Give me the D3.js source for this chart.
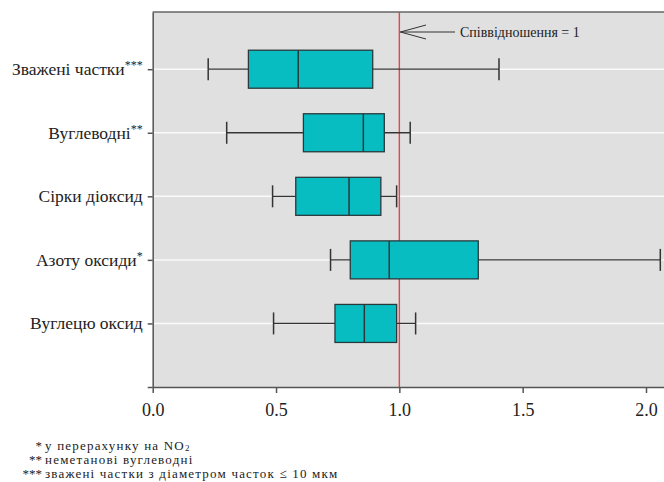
<!DOCTYPE html>
<html>
<head>
<meta charset="utf-8">
<script src="https://cdn.jsdelivr.net/npm/d3@7"></script>
<style>
  body { margin: 0; background: #fff; }
  svg text { font-family: "Liberation Serif", "DejaVu Serif", serif; fill: #222; }
</style>
</head>
<body>
<div id="chart"></div>
<script>
// categories from top to bottom
var categories = ["Зважені частки", "Вуглеводні", "Сірки діоксид", "Азоту оксиди", "Вуглецю оксид"];
var marks = ["***", "**", "", "*", ""];
var whiskerLow = [0.225, 0.30, 0.486, 0.721, 0.49];
var q1 = [0.388, 0.611, 0.580, 0.801, 0.739];
var median = [0.590, 0.854, 0.796, 0.959, 0.858];
var q3 = [0.892, 0.939, 0.925, 1.320, 0.989];
var whiskerHigh = [1.404, 1.044, 0.989, 2.058, 1.066];
var xTicks = [0, 0.5, 1.0, 1.5, 2.0];
var refValue = 1;
var notes = [
  {mark: "*", text: "у перерахунку на NO", sub: "2"},
  {mark: "**", text: "неметанові вуглеводні", sub: ""},
  {mark: "***", text: "зважені частки з діаметром часток ≤ 10 мкм", sub: ""}
];

var rows = categories.map((c, i) => ({
  name: c, mark: marks[i], pos: categories.length - i,
  lo: whiskerLow[i], q1: q1[i], med: median[i], q3: q3[i], hi: whiskerHigh[i]
}));

// careful: "top" is a reserved window property
var W = 664, H = 482;
var plotLeft = 152.7, plotTop = 12, plotBottom = 387;
var serif = '"Liberation Serif", "DejaVu Serif", serif';

var svg = d3.select('#chart').append('svg')
  .attr('width', W).attr('height', H)
  .attr('font-family', serif);

var x = d3.scaleLinear().domain([0, 2.073]).range([plotLeft, W]);
var y = d3.scaleLinear().domain([0, 5.9]).range([plotBottom, plotTop]);

// plot background
svg.append('rect')
  .attr('x', plotLeft).attr('y', plotTop)
  .attr('width', W - plotLeft).attr('height', plotBottom - plotTop)
  .attr('fill', '#e0e0e0');

// white grid lines at each category
svg.selectAll('.grid')
  .data(rows)
  .enter().append('line')
  .attr('x1', plotLeft).attr('x2', W)
  .attr('y1', d => y(d.pos)).attr('y2', d => y(d.pos))
  .attr('stroke', '#fafafa').attr('stroke-width', 1.5);

// reference line
svg.append('line')
  .attr('x1', x(refValue)).attr('x2', x(refValue))
  .attr('y1', plotTop).attr('y2', plotBottom)
  .attr('stroke', '#e8474a').attr('stroke-width', 1.4);

// whiskers and boxes
var g = svg.selectAll('.box').data(rows).enter().append('g').attr('class', 'box');
g.append('line')
  .attr('x1', d => x(d.lo)).attr('x2', d => x(d.hi))
  .attr('y1', d => y(d.pos)).attr('y2', d => y(d.pos))
  .attr('stroke', '#333').attr('stroke-width', 1.3);
g.append('line')
  .attr('x1', d => x(d.lo)).attr('x2', d => x(d.lo))
  .attr('y1', d => y(d.pos) - 11).attr('y2', d => y(d.pos) + 11)
  .attr('stroke', '#333').attr('stroke-width', 1.5);
g.append('line')
  .attr('x1', d => x(d.hi)).attr('x2', d => x(d.hi))
  .attr('y1', d => y(d.pos) - 11).attr('y2', d => y(d.pos) + 11)
  .attr('stroke', '#333').attr('stroke-width', 1.5);
g.append('rect')
  .attr('x', d => x(d.q1)).attr('width', d => x(d.q3) - x(d.q1))
  .attr('y', d => y(d.pos) - 19).attr('height', 38)
  .attr('fill', '#08bdc2').attr('stroke', '#2a3a3c').attr('stroke-width', 1.3);
g.append('line')
  .attr('x1', d => x(d.med)).attr('x2', d => x(d.med))
  .attr('y1', d => y(d.pos) - 19).attr('y2', d => y(d.pos) + 19)
  .attr('stroke', '#2a3a3c').attr('stroke-width', 1.5);

// top border
svg.append('line')
  .attr('x1', plotLeft).attr('x2', W).attr('y1', plotTop).attr('y2', plotTop)
  .attr('stroke', '#666').attr('stroke-width', 1.5);

// x axis
var xAxis = svg.append('g')
  .attr('transform', `translate(0,${plotBottom})`)
  .call(d3.axisBottom(x).tickValues(xTicks).tickFormat(d3.format('.1f')).tickSize(6).tickSizeOuter(0).tickPadding(10));
xAxis.attr('font-family', serif).attr('font-size', 18);
xAxis.select('.domain').attr('stroke', '#555').attr('stroke-width', 1.5);
xAxis.selectAll('.tick line').attr('stroke', '#555').attr('stroke-width', 1.5);
xAxis.selectAll('.tick text')
  .style('font-family', serif).style('font-size', '18px').attr('fill', '#222');

// y axis
var yAxis = svg.append('g')
  .attr('transform', `translate(${plotLeft},0)`)
  .call(d3.axisLeft(y).tickValues([0, 1, 2, 3, 4, 5]).tickFormat('').tickSize(5).tickSizeOuter(0));
yAxis.select('.domain').attr('stroke', '#555').attr('stroke-width', 1.5);
yAxis.selectAll('.tick line').attr('stroke', '#555').attr('stroke-width', 1.5);

// category labels with superscript marks
var lab = svg.selectAll('.cat').data(rows).enter().append('text')
  .attr('class', 'cat')
  .attr('x', plotLeft - 10)
  .attr('y', d => y(d.pos) + 6)
  .attr('text-anchor', 'end')
  .style('font-family', serif)
  .style('font-size', '17.5px');
lab.append('tspan').text(d => d.name);
lab.append('tspan')
  .attr('dy', -6)
  .style('font-size', '12px')
  .text(d => d.mark);

// annotation arrow for ratio = 1
var ay = 32;
var ann = svg.append('g').attr('stroke', '#333').attr('stroke-width', 1).attr('fill', 'none');
ann.append('line').attr('x1', x(refValue) + 1).attr('x2', 455).attr('y1', ay).attr('y2', ay);
ann.append('line').attr('x1', x(refValue) + 1).attr('x2', 426).attr('y1', ay).attr('y2', ay - 7);
ann.append('line').attr('x1', x(refValue) + 1).attr('x2', 426).attr('y1', ay).attr('y2', ay + 7);
svg.append('text')
  .attr('x', 460).attr('y', ay + 5)
  .style('font-family', serif)
  .style('font-size', '14px')
  .text('Співвідношення = 1');

// footnotes
var fn = svg.selectAll('.note').data(notes).enter().append('g').attr('class', 'note');
fn.append('text')
  .attr('x', 42).attr('y', (d, i) => 450 + i * 14)
  .attr('text-anchor', 'end')
  .style('font-family', serif)
  .style('font-size', '13px')
  .text(d => d.mark);
var ft = fn.append('text')
  .attr('x', 45).attr('y', (d, i) => 450 + i * 14)
  .style('font-family', serif)
  .style('font-size', '13px')
  .style('letter-spacing', '1.2px');
ft.append('tspan').text(d => d.text);
ft.append('tspan').attr('dy', 1).style('font-size', '9px').text(d => d.sub);
</script>
</body>
</html>
